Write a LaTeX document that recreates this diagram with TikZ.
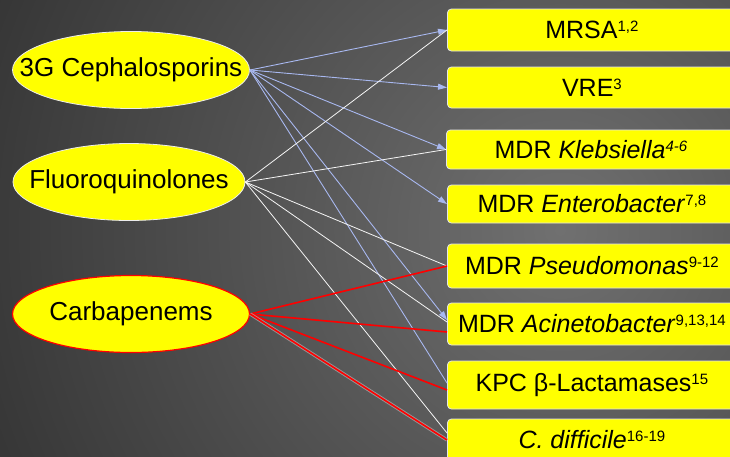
\documentclass[tikz,border=0pt]{standalone}
\usepackage{fontspec}
\setmainfont{Liberation Sans}
\usepackage{tikz}
\usetikzlibrary{shapes.geometric,arrows.meta}

\definecolor{bginner}{RGB}{112,112,112}
\definecolor{bgouter}{RGB}{34,34,34}
\definecolor{linkblue}{RGB}{168,184,240}
\definecolor{boxyellow}{RGB}{255,255,0}

\newcommand{\supref}[1]{\raisebox{7pt}{\fontsize{15}{15}\selectfont #1}}
% zero-width label so the ellipse keeps its fixed size
\newcommand{\drugtext}[1]{\makebox[0pt]{#1}}

\begin{document}
\begin{tikzpicture}[
    x=1pt, y=-1pt,
    drug/.style={
        ellipse,
        draw=white!85!gray,
        line width=0.8pt,
        fill=boxyellow,
        minimum width=237pt,
        minimum height=77pt,
        inner sep=0pt,
        font=\fontsize{26}{30}\selectfont
    },
    bug/.style={
        rectangle,
        draw=white!80!gray,
        line width=0.8pt,
        rounded corners=4pt,
        fill=boxyellow,
        anchor=west,
        minimum width=289pt,
        minimum height=42pt,
        inner sep=0pt,
        font=\fontsize{25}{30}\selectfont
    },
    bluearrow/.style={
        draw=linkblue,
        line width=0.9pt,
        -{Triangle[length=9pt,width=6pt]}
    },
    blueline/.style={draw=linkblue, line width=0.9pt},
    whiteline/.style={draw=white!92!gray, line width=0.8pt},
    redline/.style={draw=red, line width=1.6pt}
]

% ---------------- BACKGROUND ----------------
\useasboundingbox (0,0) rectangle (730,456);
\clip (0,0) rectangle (730,456);
\fill[bgouter] (0,0) rectangle (730,456);
\shade[inner color=bginner, outer color=bgouter] (560,230) circle (820pt);

% ---------------- ANTIBIOTICS ----------------
\node[drug] (ceph) at (131,70) {\drugtext{3G Cephalosporins}};
\node[drug, minimum width=232pt] (fluoro) at (129,182) {\drugtext{Fluoroquinolones}};
\node[drug, draw=red, line width=1.2pt] (carba) at (131,314) {\drugtext{Carbapenems}};

% ---------------- ORGANISMS ----------------
\node[bug] (mrsa) at (447,30) {MRSA\supref{1,2}};
\node[bug, minimum height=41pt] (vre) at (447,87.5) {VRE\supref{3}};
\node[bug, minimum height=39pt] (kleb) at (446,149.5) {MDR \textit{Klebsiella\supref{4-6}}};
\node[bug, minimum height=38pt] (entero) at (447,204) {MDR \textit{Enterobacter}\supref{7,8}};
\node[bug, minimum height=44pt] (pseudo) at (447,266) {MDR \textit{Pseudomonas}\supref{9-12}};
\node[bug] (acineto) at (447,324) {MDR \textit{Acinetobacter}\supref{9,13,14}};
\node[bug, minimum height=48pt] (kpc) at (447,385) {KPC β-Lactamases\supref{15}};
\node[bug] (cdiff) at (447,440) {\textit{C. difficile}\supref{16-19}};

% ---------------- LINKS ----------------
\draw[bluearrow] (ceph.east) -- (mrsa.west);
\draw[bluearrow] (ceph.east) -- (vre.west);
\draw[bluearrow] (ceph.east) -- (kleb.west);
\draw[bluearrow] (ceph.east) -- (entero.west);
\draw[bluearrow] (ceph.east) -- ([yshift=4pt]acineto.west);
\draw[blueline] (ceph.east) -- ([yshift=2pt]kpc.west);

\draw[whiteline] (fluoro.east) -- (mrsa.west);
\draw[whiteline] (fluoro.east) -- (kleb.west);
\draw[whiteline] (fluoro.east) -- (pseudo.west);
\draw[whiteline] (fluoro.east) -- ([yshift=2pt]acineto.west);
\draw[whiteline] (fluoro.east) -- ([yshift=7pt]cdiff.west);

\draw[redline] (carba.east) -- (pseudo.west);
\draw[redline] (carba.east) -- ([yshift=-8pt]acineto.west);
\draw[redline] (carba.east) -- ([yshift=-5pt]kpc.west);
\draw[redline, preaction={draw=gray!60, line width=3.4pt, opacity=0.7}] (carba.east) -- (cdiff.west);

\end{tikzpicture}
\end{document}
